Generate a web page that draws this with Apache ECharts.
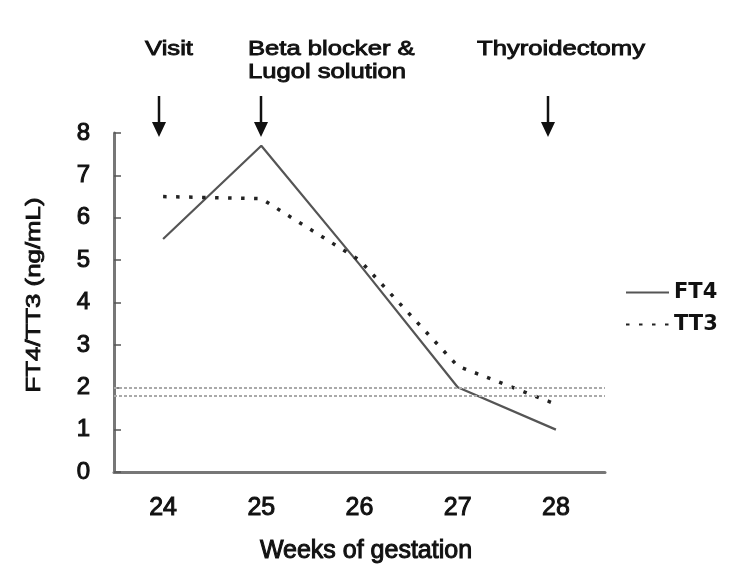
<!DOCTYPE html>
<html>
<head>
<meta charset="utf-8">
<script src="https://cdn.jsdelivr.net/npm/echarts@6/dist/echarts.min.js"></script>
<style>
  html, body { margin: 0; padding: 0; background: #fff; }
  #chart { width: 739px; height: 585px; }
</style>
</head>
<body>
<div id="chart"></div>
<script>
// data
const weeks = ['24', '25', '26', '27', '28'];
const ft4 = [5.5, 7.7, 4.9, 2.0, 1.0];
const tt3 = [6.5, 6.45, 5.0, 2.5, 1.6];
const refLines = [2.0, 1.8];   // reference range lines

// event annotations above the plot
const events = [
  { lines: ['Visit'], x: 145, arrowX: 159 },
  { lines: ['Beta blocker &', 'Lugol solution'], x: 248, arrowX: 261 },
  { lines: ['Thyroidectomy'], x: 477, arrowX: 548 }
];

const FONT = 'Liberation Sans, Arial, sans-serif';
const INK = '#111';

const chart = echarts.init(document.getElementById('chart'));

// arrows + labels
const graphics = [];
events.forEach(ev => {
  ev.lines.forEach((t, i) => {
    graphics.push({
      type: 'text', x: ev.x, y: 49.5 + i * 23, scaleX: 1.22,
      style: { text: t, fontFamily: FONT, fontSize: 21, fill: INK,
        stroke: INK, lineWidth: 0.9, align: 'left', verticalAlign: 'middle' }
    });
  });
  graphics.push({
    type: 'group', x: ev.arrowX, y: 96,
    children: [
      { type: 'line', shape: { x1: 0, y1: 0, x2: 0, y2: 28 }, style: { stroke: INK, lineWidth: 2.5 } },
      { type: 'polygon', shape: { points: [[-7, 26], [7, 26], [0, 41]] }, style: { fill: INK } }
    ]
  });
});
// y axis title (stretched like the original)
graphics.push({
  type: 'text', x: 34.5, y: 295, rotation: Math.PI / 2, scaleX: 1.29,
  style: { text: 'FT4/TT3 (ng/mL)', fontFamily: FONT, fontSize: 20, fill: INK,
    stroke: INK, lineWidth: 0.8, align: 'center', verticalAlign: 'middle' }
});

const option = {
  animation: false,
  backgroundColor: '#fff',
  grid: { left: 114, right: 134, top: 133, bottom: 113 },
  legend: {
    orient: 'vertical', left: 625, top: 282, padding: 0,
    itemWidth: 43, itemHeight: 14, itemGap: 11,
    data: ['FT4', 'TT3'],
    itemStyle: { opacity: 0 },
    textStyle: { fontFamily: 'DejaVu Sans', fontWeight: 'bold', fontSize: 21, color: INK }
  },
  xAxis: {
    type: 'category',
    data: weeks,
    boundaryGap: true,
    name: 'Weeks of gestation',
    nameLocation: 'middle',
    nameGap: 67,
    nameTextStyle: { fontFamily: FONT, fontSize: 25, color: INK, padding: [0, 0, 0, 13],
      textBorderColor: INK, textBorderWidth: 1 },
    axisLine: { lineStyle: { color: '#777', width: 3 } },
    axisTick: { show: false },
    axisLabel: { fontFamily: FONT, fontSize: 25, color: INK, margin: 24,
      textBorderColor: INK, textBorderWidth: 1 }
  },
  yAxis: {
    type: 'value',
    min: 0, max: 8, interval: 1,
    splitLine: { show: false },
    axisLine: { show: true, lineStyle: { color: '#777', width: 3 } },
    axisTick: { show: true, inside: true, length: 7, lineStyle: { color: '#555', width: 1.5 } },
    axisLabel: { fontFamily: FONT, fontSize: 24, color: INK, margin: 24,
      textBorderColor: INK, textBorderWidth: 1 }
  },
  series: [
    {
      name: 'FT4', type: 'line', data: ft4, symbol: 'none',
      color: '#555',
      lineStyle: { color: '#555', width: 2.2 }
    },
    {
      name: 'TT3', type: 'line', data: tt3, symbol: 'none',
      color: '#222',
      lineStyle: { color: '#222', width: 3.5, type: [3.5, 9.5] },
      markLine: {
        silent: true, symbol: 'none', label: { show: false },
        lineStyle: { color: '#aaa', width: 2, type: [3, 2] },
        data: refLines.map(v => ({ yAxis: v }))
      }
    }
  ],
  graphic: graphics
};

chart.setOption(option);
</script>
</body>
</html>
